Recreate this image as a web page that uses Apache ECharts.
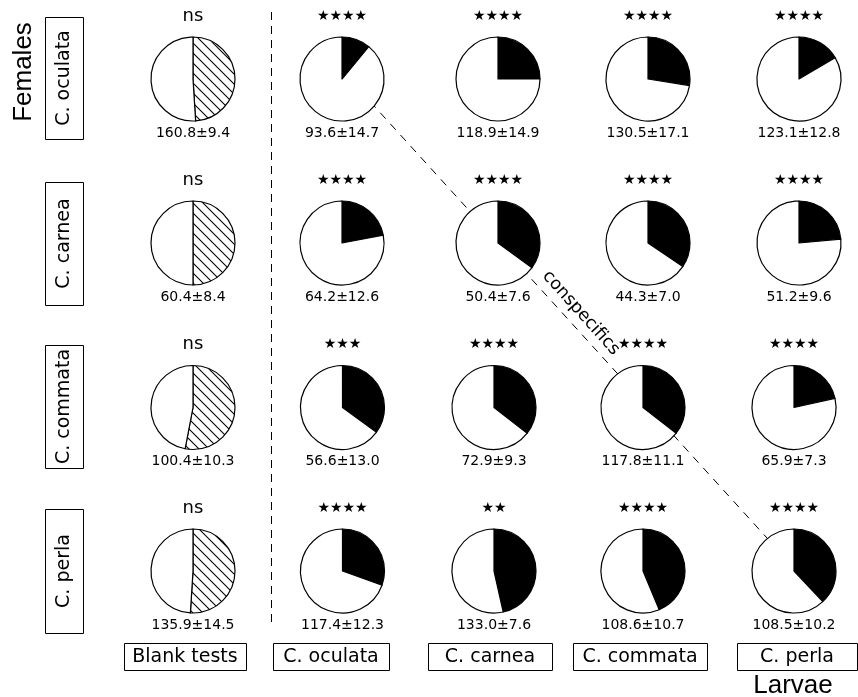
<!DOCTYPE html>
<html>
<head>
<meta charset="utf-8">
<script src="https://cdn.jsdelivr.net/npm/echarts@6/dist/echarts.min.js"></script>
<style>
html,body{margin:0;padding:0;background:#fff;}
#chart{width:858px;height:697px;}
</style>
</head>
<body>
<div id="chart"></div>
<script>
// ---- DATA ----
const femaleSpecies = ['C. oculata', 'C. carnea', 'C. commata', 'C. perla'];
const larvaColumns = ['Blank tests', 'C. oculata', 'C. carnea', 'C. commata', 'C. perla'];
// percentage of choices for the treated arm (black / hatched slice), per female row
const pctOculata = [49, 11, 25, 27.5, 16.5];
const pctCarnea  = [50, 22, 35, 34.5, 23.5];
const pctCommata = [53, 35, 35.5, 35.5, 21.5];
const pctPerla   = [51, 30.5, 46.5, 43.7, 38];
// significance
const sigOculata = ['ns', '****', '****', '****', '****'];
const sigCarnea  = ['ns', '****', '****', '****', '****'];
const sigCommata = ['ns', '***', '****', '****', '****'];
const sigPerla   = ['ns', '****', '**', '****', '****'];
// mean ± SE
const meanOculata = ['160.8±9.4', '93.6±14.7', '118.9±14.9', '130.5±17.1', '123.1±12.8'];
const meanCarnea  = ['60.4±8.4', '64.2±12.6', '50.4±7.6', '44.3±7.0', '51.2±9.6'];
const meanCommata = ['100.4±10.3', '56.6±13.0', '72.9±9.3', '117.8±11.1', '65.9±7.3'];
const meanPerla   = ['135.9±14.5', '117.4±12.3', '133.0±7.6', '108.6±10.7', '108.5±10.2'];

const pctRows = [pctOculata, pctCarnea, pctCommata, pctPerla];
const sigRows = [sigOculata, sigCarnea, sigCommata, sigPerla];
const meanRows = [meanOculata, meanCarnea, meanCommata, meanPerla];

// ---- LAYOUT ----
const rowY = [79, 243, 407.5, 571];
const colXTop = [193, 342, 498, 648, 799];
const colXBot = [193, 342.5, 494, 643, 794];
const R = 42;
const numFont = '14px "DejaVu Sans"';
const boxFont = '19px "DejaVu Sans"';

// hatch pattern
const pc = document.createElement('canvas');
pc.width = 10; pc.height = 10;
const g = pc.getContext('2d');
g.fillStyle = '#fff'; g.fillRect(0, 0, 10, 10);
g.strokeStyle = '#000'; g.lineWidth = 1.1;
[-10, 0, 10].forEach(k => { g.beginPath(); g.moveTo(-1, -1 + k); g.lineTo(11, 11 + k); g.stroke(); });

const series = [];
const graphics = [];

// dashed vertical separator
graphics.push({type: 'line', z: 0, shape: {x1: 271.5, y1: 12, x2: 271.5, y2: 628},
  style: {stroke: '#000', lineWidth: 1, lineDash: [8, 6]}});
// diagonal conspecifics line (hidden under pies)
graphics.push({type: 'line', z: 0, shape: {x1: 350, y1: 79.5, x2: 794, y2: 567.7},
  style: {stroke: '#000', lineWidth: 1, lineDash: [8, 7]}});
graphics.push({type: 'text', z: 100, x: 581, y: 313, rotation: -0.84,
  style: {text: 'conspecifics', font: '17.5px "DejaVu Sans"', fill: '#000', textAlign: 'center', textVerticalAlign: 'middle'}});

pctRows.forEach((row, r) => {
  const cx = r < 2 ? colXTop : colXBot;
  row.forEach((p, c) => {
    const fill = c === 0 ? {image: pc, repeat: 'repeat'} : '#000';
    series.push({
      type: 'pie', silent: true, animation: false, z: 5,
      center: [cx[c], rowY[r]], radius: R, startAngle: 90, clockwise: true,
      label: {show: false}, labelLine: {show: false},
      emphasis: {disabled: true},
      itemStyle: {borderColor: '#000', borderWidth: 1.2},
      data: [
        {value: p, itemStyle: {color: fill}},
        {value: 100 - p, itemStyle: {color: '#fff'}}
      ]
    });
    const sig = sigRows[r][c];
    const isNs = sig === 'ns';
    graphics.push({type: 'text', z: 100, x: cx[c], y: rowY[r] - 63,
      style: {text: isNs ? 'ns' : '★'.repeat(sig.length),
        font: isNs ? '18px "DejaVu Sans"' : '14px "DejaVu Sans"',
        fill: '#000', textAlign: 'center', textVerticalAlign: 'middle'}});
    graphics.push({type: 'text', z: 100, x: cx[c], y: rowY[r] + 54,
      style: {text: meanRows[r][c], font: numFont, fill: '#000', textAlign: 'center', textVerticalAlign: 'middle'}});
  });
});

// row label boxes
const rowBoxes = [[17, 139], [182, 305], [345, 468], [509, 633]];
femaleSpecies.forEach((s, i) => {
  const [y0, y1] = rowBoxes[i];
  graphics.push({type: 'rect', z: 50, shape: {x: 45.5, y: y0 + 0.5, width: 38, height: y1 - y0},
    style: {fill: '#fff', stroke: '#000', lineWidth: 1}});
  graphics.push({type: 'text', z: 100, x: 64.5, y: (y0 + y1) / 2, rotation: Math.PI / 2,
    style: {text: s, font: boxFont, fill: '#000', textAlign: 'center', textVerticalAlign: 'middle'}});
});
// column label boxes
const colBoxes = [[124, 246], [273, 389], [428, 552], [573, 707], [737, 857]];
larvaColumns.forEach((s, i) => {
  const [x0, x1] = colBoxes[i];
  graphics.push({type: 'rect', z: 50, shape: {x: x0 + 0.5, y: 643.5, width: x1 - x0, height: 27},
    style: {fill: '#fff', stroke: '#000', lineWidth: 1}});
  graphics.push({type: 'text', z: 100, x: (x0 + x1) / 2, y: 657,
    style: {text: s, font: boxFont, fill: '#000', textAlign: 'center', textVerticalAlign: 'middle'}});
});
graphics.push({type: 'text', z: 100, x: 24, y: 72, rotation: Math.PI / 2,
  style: {text: 'Females', font: '26px "Liberation Sans"', fill: '#000', textAlign: 'center', textVerticalAlign: 'middle'}});
graphics.push({type: 'text', z: 100, x: 793, y: 686,
  style: {text: 'Larvae', font: '26px "Liberation Sans"', fill: '#000', textAlign: 'center', textVerticalAlign: 'middle'}});

const chart = echarts.init(document.getElementById('chart'), null, {renderer: 'canvas'});
chart.setOption({
  backgroundColor: '#fff',
  animation: false,
  series: series,
  graphic: graphics
});
</script>
</body>
</html>
